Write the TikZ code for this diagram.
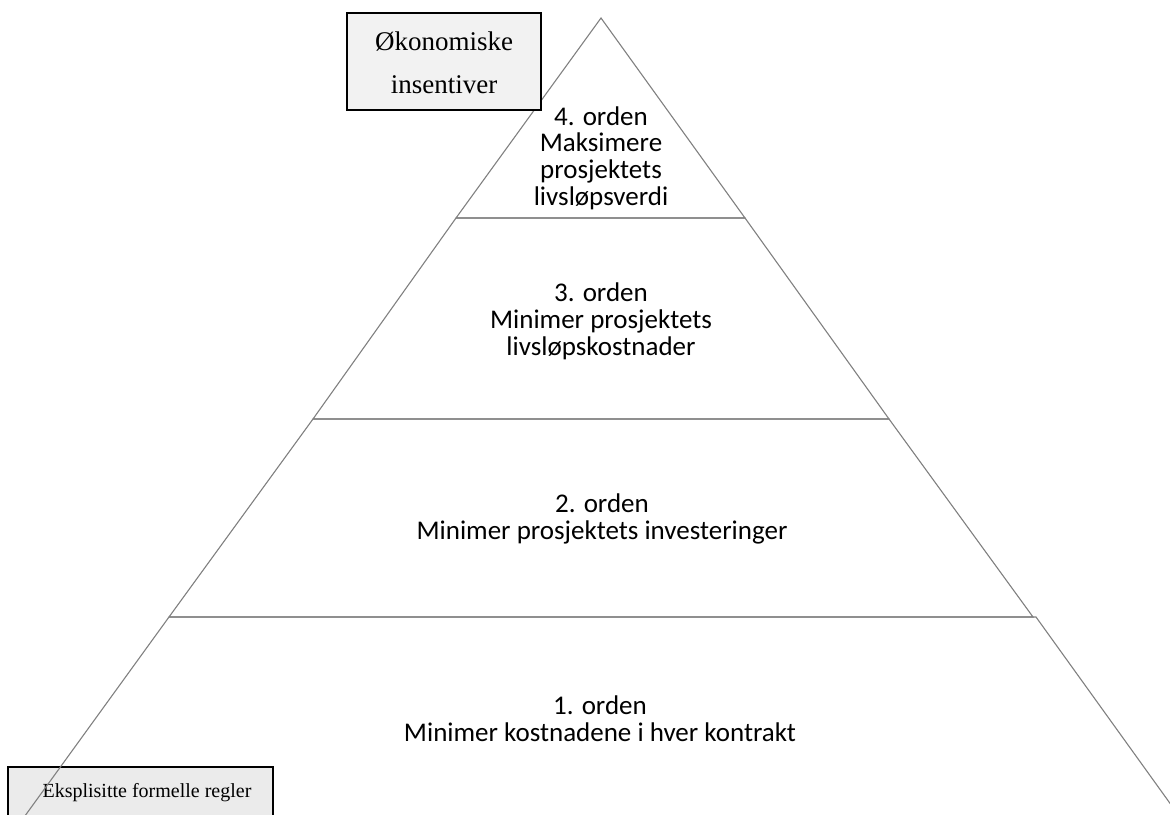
\documentclass[tikz,border=0pt]{standalone}
\usepackage{fontspec}
\setmainfont{Liberation Serif}
\newfontfamily\carl{Carlito}
\begin{document}
\begin{tikzpicture}[x=1pt,y=-1pt,
  layer/.style={draw=black!50, line width=1.1pt, line join=miter},
  lbl/.style={font=\carl\fontsize{27}{26.8}\selectfont, align=center, inner sep=0pt},
  sidebox/.style={draw=black, line width=1.6pt},
  boxtxt/.style={align=center, inner sep=0pt}]
\useasboundingbox (0,0) rectangle (1170,814);
\clip (0,0) rectangle (1170,814);
% bottom-left box (under the pyramid)
\draw[sidebox, fill=black!8] (8,767) rectangle (273,830);
\node[boxtxt, font=\fontsize{20}{24}\selectfont] (regler) at (147,793) {Eksplisitte formelle regler};
% pyramid layers
\coordinate (apex) at (601,18);
\coordinate (l4) at (456,218); \coordinate (r4) at (745,218);
\coordinate (l3) at (313,419); \coordinate (r3) at (889,419);
\coordinate (l2) at (169,617); \coordinate (r2) at (1033,617);
\coordinate (r2b) at (1036,617);
\coordinate (l1) at (22,820); \coordinate (r1) at (1182,820);
\draw[layer] (apex) -- (r4) -- (l4) -- cycle;
\draw[layer] (l4) -- (r4) -- (r3) -- (l3) -- cycle;
\draw[layer] (l3) -- (r3) -- (r2) -- (l2) -- cycle;
\draw[layer] (l2) -- (r2b) -- (r1) -- (l1) -- cycle;
% labels
\node[lbl] (o4) at (601,158) {4. orden\\Maksimere\\prosjektets\\livsløpsverdi};
\node[lbl] (o3) at (601,321) {3. orden\\Minimer prosjektets\\livsløpskostnader};
\node[lbl] (o2) at (602,519) {2. orden\\Minimer prosjektets investeringer};
\node[lbl] (o1) at (600,719) {1. orden\\Minimer kostnadene i hver kontrakt};
% top-left box (over the pyramid)
\draw[sidebox, fill=black!5] (347,13) rectangle (541,110);
\node[boxtxt, font=\fontsize{27}{43}\selectfont] (okon) at (444,63) {Økonomiske\\insentiver};
\end{tikzpicture}
\end{document}
